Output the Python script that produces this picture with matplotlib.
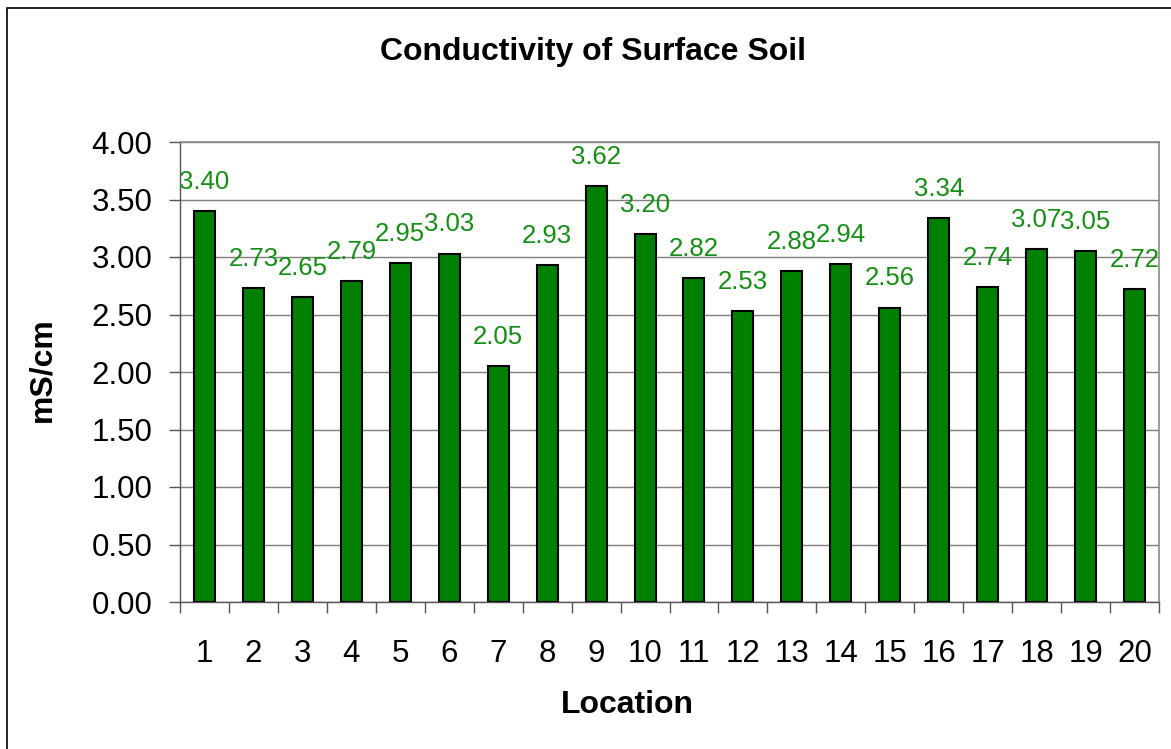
import matplotlib
matplotlib.use("Agg")
import matplotlib.pyplot as plt
from matplotlib.patches import Rectangle
import numpy as np

plt.rcParams['font.family'] = ['Liberation Sans', 'DejaVu Sans']

locations = [str(i) for i in range(1, 21)]
conductivity = [3.40, 2.73, 2.65, 2.79, 2.95, 3.03, 2.05, 2.93, 3.62, 3.20,
                2.82, 2.53, 2.88, 2.94, 2.56, 3.34, 2.74, 3.07, 3.05, 2.72]
y_ticks = [0.0, 0.5, 1.0, 1.5, 2.0, 2.5, 3.0, 3.5, 4.0]

W, H = 1171, 749
fig = plt.figure(figsize=(W / 100, H / 100), dpi=100)

# outer chart border
fig.patches.append(Rectangle((7 / W, -0.05), 1.2, (H - 8) / H + 0.05,
                             transform=fig.transFigure, fill=False,
                             edgecolor='black', linewidth=1.2))

left, right, top, bottom = 180, 1159, 142, 602
ax = fig.add_axes([left / W, 1 - bottom / H, (right - left) / W, (bottom - top) / H])

x = np.arange(len(locations))
ax.bar(x, conductivity, width=0.43, color='#008000', edgecolor='black',
       linewidth=1.5, zorder=3)

for xi, v in zip(x, conductivity):
    ax.annotate(f"{v:.2f}", (xi, v), xytext=(0, 21), textcoords='offset points',
                ha='center', va='center', color='#138f13', fontsize=18.5)

ax.set_xlim(-0.5, len(locations) - 0.5)
ax.set_ylim(0, 4.0)
ax.set_yticks(y_ticks)
ax.set_yticklabels([f"{t:.2f}" for t in y_ticks], fontsize=22.5)
ax.yaxis.grid(True, color='#7f7f7f', linewidth=1.0, zorder=0)

ax.set_xticks(x)
ax.set_xticklabels(locations, fontsize=22.5)
ax.set_xticks(np.arange(-0.5, len(locations)), minor=True)
ax.tick_params(axis='x', which='major', length=0, pad=27)
ax.tick_params(axis='x', which='minor', length=8, width=1.0, color='#555555', direction='out')
ax.tick_params(axis='y', length=8, width=1.0, color='#555555', direction='out', pad=12)

for s in ['left', 'bottom']:
    ax.spines[s].set_color('#555555')
    ax.spines[s].set_linewidth(1.0)
for s in ['right', 'top']:
    ax.spines[s].set_color('#8a8a8a')
    ax.spines[s].set_linewidth(1.2)

fig.text(593 / W, 1 - 52 / H, "Conductivity of Surface Soil", ha='center', va='center',
         fontsize=23, fontweight='bold')
fig.text(42 / W, 1 - 370 / H, "mS/cm", ha='center', va='center', rotation=90,
         fontsize=23, fontweight='bold')
fig.text(627 / W, 1 - 705 / H, "Location", ha='center', va='center',
         fontsize=23, fontweight='bold')

fig.savefig("out.png", dpi=100)
